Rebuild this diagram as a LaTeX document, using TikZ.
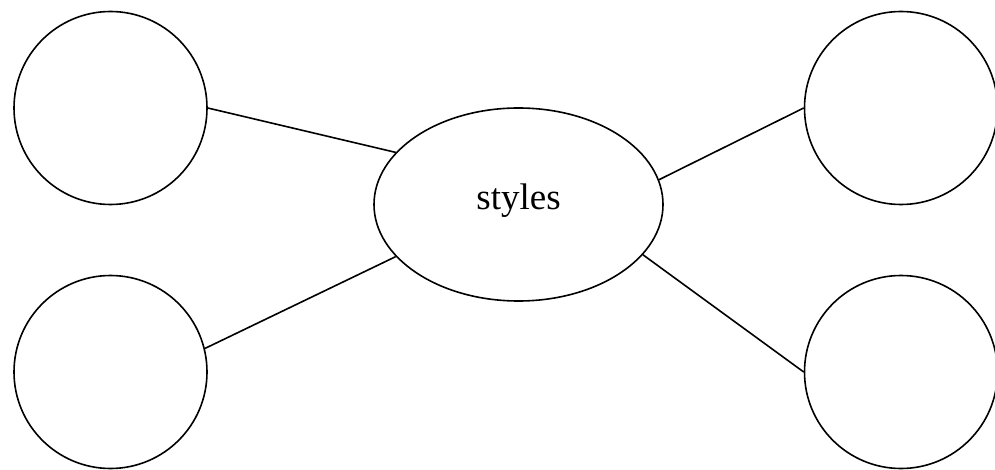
\documentclass[tikz,border=0pt]{standalone}
\usepackage{fontspec}
\setmainfont{Liberation Serif}
\usepackage{tikz}
\usetikzlibrary{shapes.geometric}

\begin{document}
\begin{tikzpicture}[x=0.5pt,y=-0.5pt,line width=0.8pt,leaf/.style={circle,draw,minimum size=96.5pt,inner sep=0pt},hub/.style={ellipse,draw,minimum width=144.5pt,minimum height=96.5pt,inner sep=0pt,font=\fontsize{18.5}{22}\selectfont}]
	\useasboundingbox (0,0) rectangle (995,470);
	
	\node[hub] (styles) at (518.5,204.5) {\raisebox{7.5pt}{styles}};
	\node[leaf] (tl) at (110.5,108) {};
	\node[leaf] (bl) at (110.5,372) {};
	\node[leaf] (tr) at (901,108) {};
	\node[leaf] (br) at (901,372) {};
	
	\draw (tl.east) -- (styles.157);
	\draw (bl.14) -- (styles.203);
	\draw (tr.west) -- (styles.10);
	\draw (br.west) -- (styles.-22);
\end{tikzpicture}
\end{document}
